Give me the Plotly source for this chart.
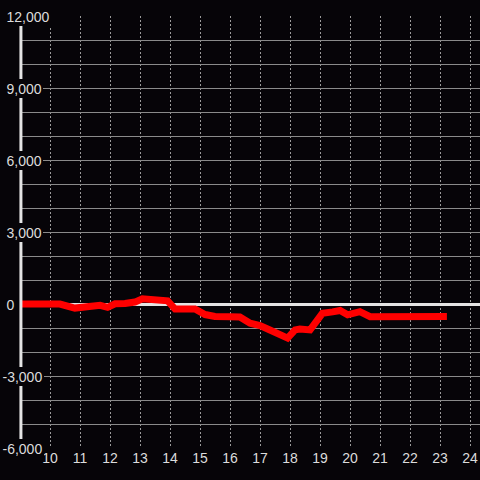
import plotly.graph_objects as go

# data (hours of day vs value)
hours = [9.0, 10.33, 10.83, 11.17, 11.67, 11.92, 12.17, 12.5, 12.83, 13.08, 13.5, 13.92,
         14.17, 14.83, 15.17, 15.5, 16.0, 16.33, 16.67, 17.0, 17.33, 17.67, 17.92,
         18.17, 18.33, 18.67, 18.92, 19.08, 19.42, 19.67, 19.92, 20.33, 20.67, 23.23]
values = [0, 0, -170, -130, -55, -140, 10, 20, 80, 220, 150, 130,
          -210, -210, -440, -520, -530, -540, -800, -900, -1080, -1240, -1420,
          -1080, -1040, -1080, -650, -390, -330, -270, -450, -320, -530, -520]

y_tick_vals = [12000, 9000, 6000, 3000, 0, -3000, -6000]
y_tick_text = ["12,000", "9,000", "6,000", "3,000", "0", "-3,000", "-6,000"]
x_tick_vals = list(range(10, 25))
x_tick_text = [str(v) for v in x_tick_vals]

BG = "#060408"
TXT = "#dcdcdc"
FONT = "Arial, Liberation Sans, sans-serif"

fig = go.Figure()
fig.add_trace(go.Scatter(x=hours, y=values, mode="lines",
                         line=dict(color="#ff0000", width=7),
                         hoverinfo="skip", showlegend=False))

L, R, T, B = 20, 0, 16, 32
W = 480 - L - R

annotations = []
for v, t in zip(y_tick_vals, y_tick_text):
    left_px = 1.0 if v < 0 else 5.0
    annotations.append(dict(
        x=(left_px - L) / W, xref="paper", y=v, yref="y",
        text=t, showarrow=False, xanchor="left", yanchor="middle",
        font=dict(family=FONT, size=14, color=TXT),
        bgcolor=BG, borderpad=1.5, borderwidth=0,
    ))

fig.update_layout(
    width=480, height=480,
    margin=dict(l=L, r=R, t=T, b=B, pad=0),
    paper_bgcolor=BG, plot_bgcolor=BG,
    font=dict(family=FONT, size=14, color=TXT),
    xaxis=dict(range=[9, 9 + W / 30.0], tickmode="array", tickvals=x_tick_vals,
               ticktext=x_tick_text, showgrid=True, gridcolor="#9a9a9a", gridwidth=1,
               griddash="2px,2px", zeroline=False, showline=False, ticks="",
               tickfont=dict(family=FONT, size=14, color=TXT)),
    yaxis=dict(range=[-6000, 12000], tickmode="linear", tick0=0, dtick=1000,
               showticklabels=False, showgrid=True, gridcolor="#8a8a8a", gridwidth=1,
               zeroline=True, zerolinecolor="#e4e4e4", zerolinewidth=3,
               showline=False, ticks=""),
    shapes=[dict(type="line", xref="paper", yref="paper", x0=0.002, x1=0.002, y0=0, y1=1,
                 line=dict(color="#e4e4e4", width=3), layer="above")],
    annotations=annotations,
)

fig.write_html("out.html",
               config={"displayModeBar": False},
               post_script="document.body.style.margin='0';document.body.style.overflow='hidden';document.body.style.background='%s';" % BG)
